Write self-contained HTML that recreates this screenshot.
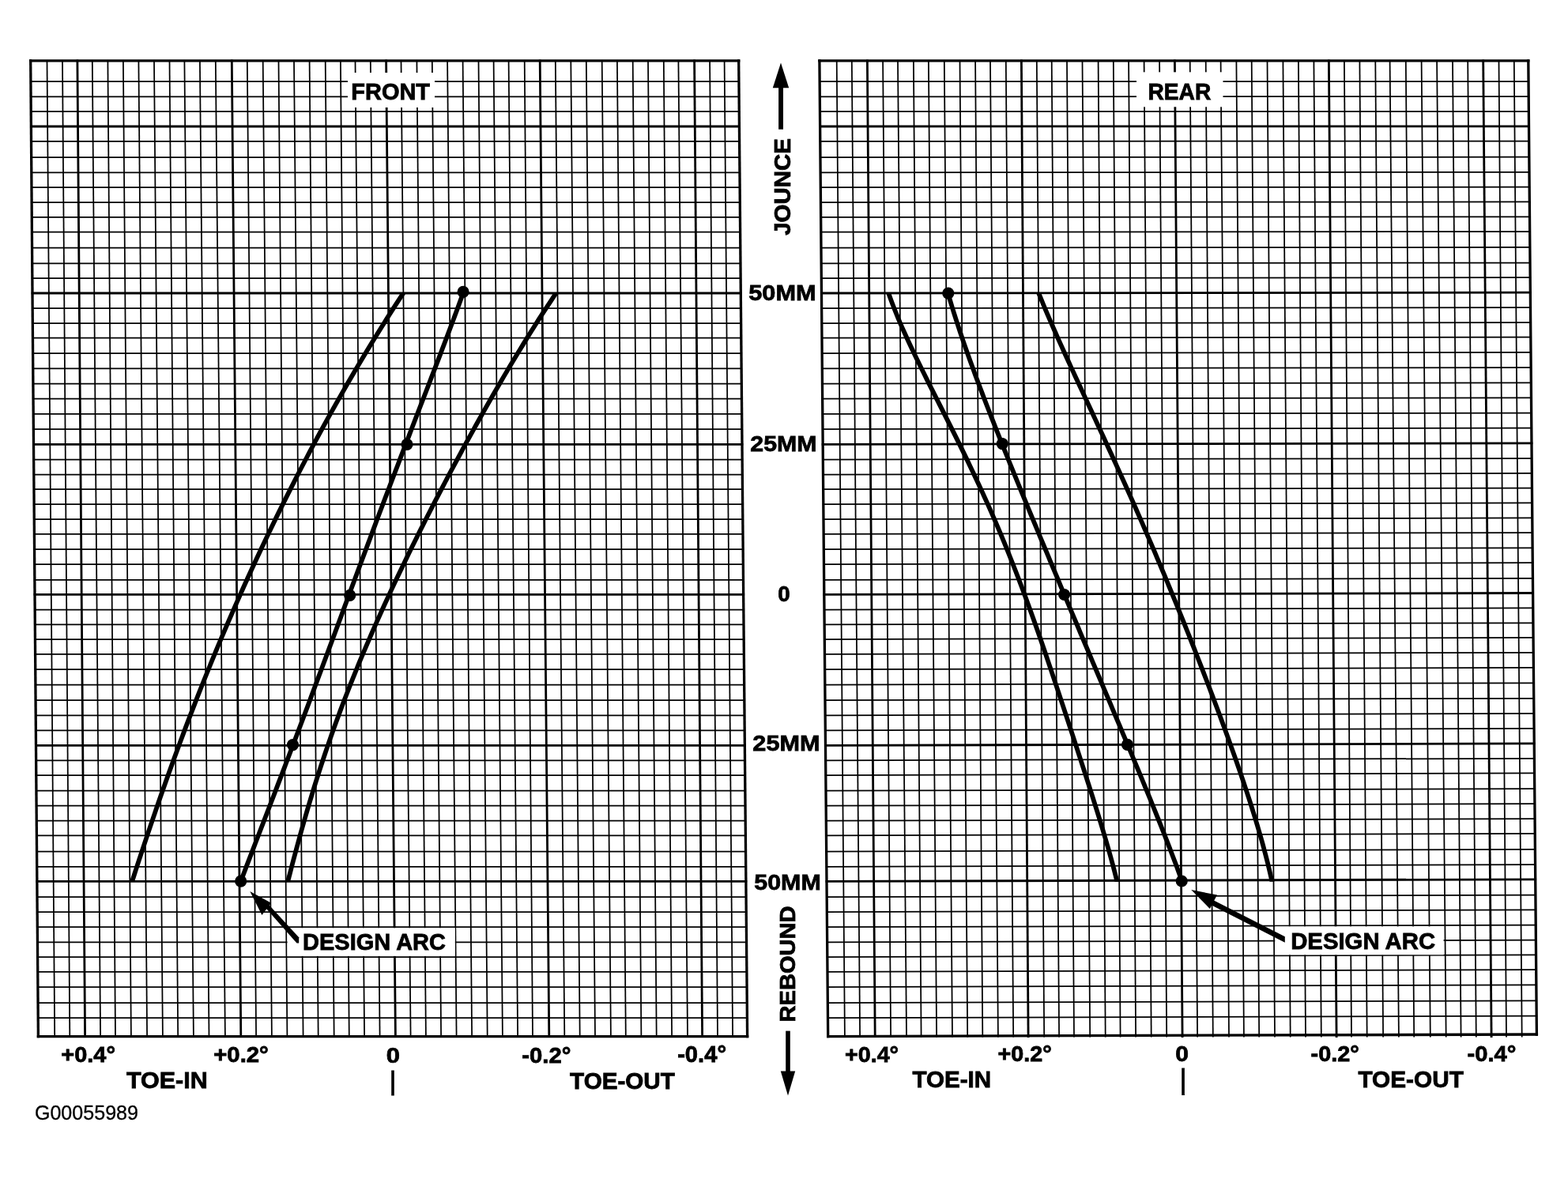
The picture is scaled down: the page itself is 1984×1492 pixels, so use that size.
<!DOCTYPE html><html><head><meta charset="utf-8"><title>Toe curve chart</title><style>html,body{margin:0;padding:0;background:#fff}svg{display:block}</style></head><body>
<svg width="1984" height="1492" viewBox="0 0 1984 1492">
<rect width="1984" height="1492" fill="#fff"/>
<defs><clipPath id="cclip"><rect x="0" y="370.2" width="1984" height="745.6"/></clipPath></defs>
<g fill="none" stroke="#000" stroke-linecap="square">
<line x1="38.7" y1="76.8" x2="48.4" y2="1311.6" stroke-width="3.3"/>
<line x1="59.5" y1="76.8" x2="69.2" y2="1311.6" stroke-width="1.75"/>
<line x1="79.0" y1="76.8" x2="88.3" y2="1311.6" stroke-width="1.75"/>
<line x1="97.9" y1="76.8" x2="107.6" y2="1311.6" stroke-width="2.8"/>
<line x1="116.8" y1="76.8" x2="127.1" y2="1311.6" stroke-width="1.75"/>
<line x1="136.4" y1="76.8" x2="146.0" y2="1311.6" stroke-width="1.75"/>
<line x1="155.9" y1="76.8" x2="165.9" y2="1311.6" stroke-width="1.75"/>
<line x1="175.4" y1="76.8" x2="186.1" y2="1311.6" stroke-width="1.75"/>
<line x1="195.0" y1="76.8" x2="205.9" y2="1311.6" stroke-width="1.75"/>
<line x1="214.5" y1="76.8" x2="225.2" y2="1311.6" stroke-width="1.75"/>
<line x1="233.4" y1="76.8" x2="244.9" y2="1311.6" stroke-width="1.75"/>
<line x1="252.9" y1="76.8" x2="264.5" y2="1311.6" stroke-width="1.75"/>
<line x1="272.8" y1="76.8" x2="284.9" y2="1311.6" stroke-width="1.75"/>
<line x1="293.3" y1="76.8" x2="304.8" y2="1311.6" stroke-width="2.8"/>
<line x1="312.8" y1="76.8" x2="324.1" y2="1311.6" stroke-width="1.75"/>
<line x1="332.7" y1="76.8" x2="343.9" y2="1311.6" stroke-width="1.75"/>
<line x1="352.5" y1="76.8" x2="363.4" y2="1311.6" stroke-width="1.75"/>
<line x1="372.0" y1="76.8" x2="383.6" y2="1311.6" stroke-width="1.75"/>
<line x1="391.6" y1="76.8" x2="402.7" y2="1311.6" stroke-width="1.75"/>
<line x1="411.7" y1="76.8" x2="422.7" y2="1311.6" stroke-width="1.75"/>
<line x1="430.9" y1="76.8" x2="441.8" y2="1311.6" stroke-width="1.75"/>
<line x1="449.5" y1="76.8" x2="461.1" y2="1311.6" stroke-width="1.75"/>
<line x1="468.8" y1="76.8" x2="480.6" y2="1311.6" stroke-width="1.75"/>
<line x1="488.6" y1="76.8" x2="500.4" y2="1311.6" stroke-width="2.8"/>
<line x1="507.5" y1="76.8" x2="519.6" y2="1311.6" stroke-width="1.75"/>
<line x1="527.4" y1="76.8" x2="538.9" y2="1311.6" stroke-width="1.75"/>
<line x1="546.8" y1="76.8" x2="558.1" y2="1311.6" stroke-width="1.75"/>
<line x1="566.1" y1="76.8" x2="577.6" y2="1311.6" stroke-width="1.75"/>
<line x1="585.6" y1="76.8" x2="597.1" y2="1311.6" stroke-width="1.75"/>
<line x1="605.5" y1="76.8" x2="616.7" y2="1311.6" stroke-width="1.75"/>
<line x1="624.6" y1="76.8" x2="635.9" y2="1311.6" stroke-width="1.75"/>
<line x1="643.6" y1="76.8" x2="655.1" y2="1311.6" stroke-width="1.75"/>
<line x1="663.7" y1="76.8" x2="674.0" y2="1311.6" stroke-width="1.75"/>
<line x1="683.2" y1="76.8" x2="694.8" y2="1311.6" stroke-width="2.8"/>
<line x1="702.8" y1="76.8" x2="714.3" y2="1311.6" stroke-width="1.75"/>
<line x1="722.3" y1="76.8" x2="733.7" y2="1311.6" stroke-width="1.75"/>
<line x1="741.8" y1="76.8" x2="753.0" y2="1311.6" stroke-width="1.75"/>
<line x1="761.7" y1="76.8" x2="772.9" y2="1311.6" stroke-width="1.75"/>
<line x1="780.9" y1="76.8" x2="791.8" y2="1311.6" stroke-width="1.75"/>
<line x1="800.7" y1="76.8" x2="811.4" y2="1311.6" stroke-width="1.75"/>
<line x1="820.0" y1="76.8" x2="830.7" y2="1311.6" stroke-width="1.75"/>
<line x1="839.8" y1="76.8" x2="850.1" y2="1311.6" stroke-width="1.75"/>
<line x1="858.4" y1="76.8" x2="870.0" y2="1311.6" stroke-width="1.75"/>
<line x1="878.6" y1="76.8" x2="888.6" y2="1311.6" stroke-width="2.8"/>
<line x1="898.1" y1="76.8" x2="908.0" y2="1311.6" stroke-width="1.75"/>
<line x1="916.6" y1="76.8" x2="927.1" y2="1311.6" stroke-width="1.75"/>
<line x1="934.7" y1="76.8" x2="945.6" y2="1311.6" stroke-width="3.3"/>
<line x1="38.7" y1="76.8" x2="934.7" y2="76.8" stroke-width="3.3"/>
<line x1="38.9" y1="103.0" x2="934.9" y2="103.0" stroke-width="1.75"/>
<line x1="39.1" y1="122.3" x2="935.1" y2="122.3" stroke-width="1.75"/>
<line x1="39.2" y1="141.2" x2="935.3" y2="141.2" stroke-width="1.75"/>
<line x1="39.4" y1="160.0" x2="935.4" y2="160.0" stroke-width="2.8"/>
<line x1="39.5" y1="178.9" x2="935.6" y2="178.9" stroke-width="1.75"/>
<line x1="39.7" y1="199.0" x2="935.8" y2="199.0" stroke-width="1.75"/>
<line x1="39.8" y1="218.3" x2="935.9" y2="218.3" stroke-width="1.75"/>
<line x1="40.0" y1="237.1" x2="936.1" y2="237.1" stroke-width="1.75"/>
<line x1="40.1" y1="256.0" x2="936.3" y2="256.0" stroke-width="1.75"/>
<line x1="40.3" y1="274.9" x2="936.4" y2="274.9" stroke-width="1.75"/>
<line x1="40.4" y1="293.7" x2="936.6" y2="293.7" stroke-width="1.75"/>
<line x1="40.6" y1="313.5" x2="936.8" y2="313.5" stroke-width="1.75"/>
<line x1="40.7" y1="333.3" x2="937.0" y2="333.3" stroke-width="1.75"/>
<line x1="40.9" y1="352.0" x2="937.1" y2="352.0" stroke-width="1.75"/>
<line x1="41.0" y1="371.0" x2="937.3" y2="371.0" stroke-width="2.8"/>
<line x1="41.2" y1="390.0" x2="937.5" y2="390.0" stroke-width="1.75"/>
<line x1="41.3" y1="409.0" x2="937.6" y2="409.0" stroke-width="1.75"/>
<line x1="41.5" y1="427.7" x2="937.8" y2="427.7" stroke-width="1.75"/>
<line x1="41.6" y1="447.0" x2="938.0" y2="447.0" stroke-width="1.75"/>
<line x1="41.8" y1="466.3" x2="938.1" y2="466.3" stroke-width="1.75"/>
<line x1="41.9" y1="485.5" x2="938.3" y2="485.5" stroke-width="1.75"/>
<line x1="42.1" y1="504.5" x2="938.5" y2="504.5" stroke-width="1.75"/>
<line x1="42.2" y1="523.9" x2="938.6" y2="523.9" stroke-width="1.75"/>
<line x1="42.4" y1="543.0" x2="938.8" y2="543.0" stroke-width="1.75"/>
<line x1="42.5" y1="562.3" x2="939.0" y2="562.3" stroke-width="2.8"/>
<line x1="42.7" y1="581.5" x2="939.2" y2="581.5" stroke-width="1.75"/>
<line x1="42.8" y1="600.5" x2="939.3" y2="600.5" stroke-width="1.75"/>
<line x1="43.0" y1="619.2" x2="939.5" y2="619.2" stroke-width="1.75"/>
<line x1="43.1" y1="638.1" x2="939.7" y2="638.1" stroke-width="1.75"/>
<line x1="43.3" y1="657.1" x2="939.8" y2="657.1" stroke-width="1.75"/>
<line x1="43.4" y1="675.8" x2="940.0" y2="675.8" stroke-width="1.75"/>
<line x1="43.6" y1="695.1" x2="940.2" y2="695.1" stroke-width="1.75"/>
<line x1="43.7" y1="714.0" x2="940.3" y2="714.0" stroke-width="1.75"/>
<line x1="43.9" y1="733.8" x2="940.5" y2="733.8" stroke-width="1.75"/>
<line x1="44.0" y1="752.4" x2="940.7" y2="752.4" stroke-width="2.8"/>
<line x1="44.2" y1="771.5" x2="940.8" y2="771.5" stroke-width="1.75"/>
<line x1="44.3" y1="790.3" x2="941.0" y2="790.3" stroke-width="1.75"/>
<line x1="44.4" y1="809.0" x2="941.2" y2="809.0" stroke-width="1.75"/>
<line x1="44.6" y1="827.9" x2="941.3" y2="827.9" stroke-width="1.75"/>
<line x1="44.7" y1="847.2" x2="941.5" y2="847.2" stroke-width="1.75"/>
<line x1="44.9" y1="866.5" x2="941.7" y2="866.5" stroke-width="1.75"/>
<line x1="45.1" y1="886.1" x2="941.8" y2="886.1" stroke-width="1.75"/>
<line x1="45.2" y1="905.3" x2="942.0" y2="905.3" stroke-width="1.75"/>
<line x1="45.4" y1="924.3" x2="942.2" y2="924.3" stroke-width="1.75"/>
<line x1="45.5" y1="943.4" x2="942.3" y2="943.4" stroke-width="2.8"/>
<line x1="45.7" y1="962.3" x2="942.5" y2="962.3" stroke-width="1.75"/>
<line x1="45.8" y1="981.0" x2="942.7" y2="981.0" stroke-width="1.75"/>
<line x1="46.0" y1="1000.7" x2="942.9" y2="1000.7" stroke-width="1.75"/>
<line x1="46.1" y1="1019.7" x2="943.0" y2="1019.7" stroke-width="1.75"/>
<line x1="46.3" y1="1038.7" x2="943.2" y2="1038.7" stroke-width="1.75"/>
<line x1="46.4" y1="1057.4" x2="943.4" y2="1057.4" stroke-width="1.75"/>
<line x1="46.6" y1="1077.5" x2="943.5" y2="1077.5" stroke-width="1.75"/>
<line x1="46.7" y1="1096.8" x2="943.7" y2="1096.8" stroke-width="1.75"/>
<line x1="46.9" y1="1115.4" x2="943.9" y2="1115.4" stroke-width="2.8"/>
<line x1="47.0" y1="1135.2" x2="944.0" y2="1135.2" stroke-width="1.75"/>
<line x1="47.2" y1="1154.1" x2="944.2" y2="1154.1" stroke-width="1.75"/>
<line x1="47.3" y1="1173.2" x2="944.4" y2="1173.2" stroke-width="1.75"/>
<line x1="47.5" y1="1192.3" x2="944.5" y2="1192.3" stroke-width="1.75"/>
<line x1="47.6" y1="1211.0" x2="944.7" y2="1211.0" stroke-width="1.75"/>
<line x1="47.7" y1="1229.8" x2="944.9" y2="1229.8" stroke-width="1.75"/>
<line x1="47.9" y1="1249.1" x2="945.1" y2="1249.1" stroke-width="1.75"/>
<line x1="48.1" y1="1269.0" x2="945.2" y2="1269.0" stroke-width="1.75"/>
<line x1="48.2" y1="1288.2" x2="945.4" y2="1288.2" stroke-width="1.75"/>
<line x1="48.4" y1="1311.6" x2="945.6" y2="1311.6" stroke-width="3.3"/>
</g>
<g fill="none" stroke="#000" stroke-linecap="square">
<line x1="1036.9" y1="76.8" x2="1047.7" y2="1311.6" stroke-width="3.3"/>
<line x1="1058.7" y1="76.8" x2="1068.9" y2="1311.6" stroke-width="1.75"/>
<line x1="1077.8" y1="76.8" x2="1088.1" y2="1311.6" stroke-width="1.75"/>
<line x1="1097.4" y1="76.8" x2="1107.2" y2="1311.6" stroke-width="2.8"/>
<line x1="1117.1" y1="76.8" x2="1127.1" y2="1311.6" stroke-width="1.75"/>
<line x1="1136.0" y1="76.8" x2="1147.0" y2="1311.6" stroke-width="1.75"/>
<line x1="1155.9" y1="76.8" x2="1165.6" y2="1311.6" stroke-width="1.75"/>
<line x1="1174.9" y1="76.8" x2="1185.1" y2="1311.6" stroke-width="1.75"/>
<line x1="1194.8" y1="76.8" x2="1205.0" y2="1311.6" stroke-width="1.75"/>
<line x1="1214.5" y1="76.8" x2="1224.2" y2="1311.6" stroke-width="1.75"/>
<line x1="1234.1" y1="76.8" x2="1243.3" y2="1311.6" stroke-width="1.75"/>
<line x1="1253.0" y1="76.8" x2="1262.9" y2="1311.6" stroke-width="1.75"/>
<line x1="1272.8" y1="76.8" x2="1282.2" y2="1311.6" stroke-width="1.75"/>
<line x1="1292.4" y1="76.8" x2="1301.1" y2="1311.6" stroke-width="2.8"/>
<line x1="1311.8" y1="76.8" x2="1321.2" y2="1311.6" stroke-width="1.75"/>
<line x1="1330.7" y1="76.8" x2="1340.1" y2="1311.6" stroke-width="1.75"/>
<line x1="1350.0" y1="76.8" x2="1359.0" y2="1311.6" stroke-width="1.75"/>
<line x1="1369.5" y1="76.8" x2="1379.2" y2="1311.6" stroke-width="1.75"/>
<line x1="1389.6" y1="76.8" x2="1398.7" y2="1311.6" stroke-width="1.75"/>
<line x1="1408.8" y1="76.8" x2="1417.6" y2="1311.6" stroke-width="1.75"/>
<line x1="1428.1" y1="76.8" x2="1437.1" y2="1311.6" stroke-width="1.75"/>
<line x1="1447.6" y1="76.8" x2="1456.7" y2="1311.6" stroke-width="1.75"/>
<line x1="1467.1" y1="76.8" x2="1476.2" y2="1311.6" stroke-width="1.75"/>
<line x1="1486.4" y1="76.8" x2="1496.1" y2="1311.6" stroke-width="2.8"/>
<line x1="1505.7" y1="76.8" x2="1515.1" y2="1311.6" stroke-width="1.75"/>
<line x1="1525.7" y1="76.8" x2="1534.8" y2="1311.6" stroke-width="1.75"/>
<line x1="1544.6" y1="76.8" x2="1555.0" y2="1311.6" stroke-width="1.75"/>
<line x1="1564.4" y1="76.8" x2="1573.9" y2="1311.6" stroke-width="1.75"/>
<line x1="1583.7" y1="76.8" x2="1593.2" y2="1311.6" stroke-width="1.75"/>
<line x1="1603.5" y1="76.8" x2="1613.0" y2="1311.6" stroke-width="1.75"/>
<line x1="1623.4" y1="76.8" x2="1632.7" y2="1311.6" stroke-width="1.75"/>
<line x1="1642.9" y1="76.8" x2="1652.0" y2="1311.6" stroke-width="1.75"/>
<line x1="1662.4" y1="76.8" x2="1671.8" y2="1311.6" stroke-width="1.75"/>
<line x1="1681.4" y1="76.8" x2="1691.1" y2="1311.6" stroke-width="2.8"/>
<line x1="1700.9" y1="76.8" x2="1710.0" y2="1311.6" stroke-width="1.75"/>
<line x1="1720.4" y1="76.8" x2="1729.7" y2="1311.6" stroke-width="1.75"/>
<line x1="1740.3" y1="76.8" x2="1750.1" y2="1311.6" stroke-width="1.75"/>
<line x1="1758.6" y1="76.8" x2="1769.9" y2="1311.6" stroke-width="1.75"/>
<line x1="1778.8" y1="76.8" x2="1789.2" y2="1311.6" stroke-width="1.75"/>
<line x1="1798.6" y1="76.8" x2="1809.8" y2="1311.6" stroke-width="1.75"/>
<line x1="1818.1" y1="76.8" x2="1829.7" y2="1311.6" stroke-width="1.75"/>
<line x1="1838.0" y1="76.8" x2="1848.6" y2="1311.6" stroke-width="1.75"/>
<line x1="1857.2" y1="76.8" x2="1867.8" y2="1311.6" stroke-width="1.75"/>
<line x1="1876.7" y1="76.8" x2="1887.1" y2="1311.6" stroke-width="2.8"/>
<line x1="1896.5" y1="76.8" x2="1906.0" y2="1311.6" stroke-width="1.75"/>
<line x1="1915.8" y1="76.8" x2="1925.7" y2="1311.6" stroke-width="1.75"/>
<line x1="1933.8" y1="76.8" x2="1944.4" y2="1309.0" stroke-width="3.3"/>
<line x1="1036.9" y1="76.8" x2="1933.8" y2="76.8" stroke-width="3.3"/>
<line x1="1037.1" y1="103.0" x2="1934.0" y2="103.0" stroke-width="1.75"/>
<line x1="1037.3" y1="122.3" x2="1934.2" y2="122.2" stroke-width="1.75"/>
<line x1="1037.5" y1="141.2" x2="1934.3" y2="141.1" stroke-width="1.75"/>
<line x1="1037.6" y1="160.0" x2="1934.5" y2="159.8" stroke-width="2.8"/>
<line x1="1037.8" y1="178.9" x2="1934.7" y2="178.6" stroke-width="1.75"/>
<line x1="1038.0" y1="199.0" x2="1934.8" y2="198.7" stroke-width="1.75"/>
<line x1="1038.1" y1="218.3" x2="1935.0" y2="217.9" stroke-width="1.75"/>
<line x1="1038.3" y1="237.1" x2="1935.2" y2="236.7" stroke-width="1.75"/>
<line x1="1038.5" y1="256.0" x2="1935.3" y2="255.5" stroke-width="1.75"/>
<line x1="1038.6" y1="274.9" x2="1935.5" y2="274.4" stroke-width="1.75"/>
<line x1="1038.8" y1="293.7" x2="1935.7" y2="293.1" stroke-width="1.75"/>
<line x1="1039.0" y1="313.5" x2="1935.8" y2="312.9" stroke-width="1.75"/>
<line x1="1039.1" y1="333.3" x2="1936.0" y2="332.6" stroke-width="1.75"/>
<line x1="1039.3" y1="352.0" x2="1936.2" y2="351.2" stroke-width="1.75"/>
<line x1="1039.5" y1="371.0" x2="1936.3" y2="370.2" stroke-width="2.8"/>
<line x1="1039.6" y1="390.0" x2="1936.5" y2="389.1" stroke-width="1.75"/>
<line x1="1039.8" y1="409.0" x2="1936.6" y2="408.1" stroke-width="1.75"/>
<line x1="1040.0" y1="427.7" x2="1936.8" y2="426.7" stroke-width="1.75"/>
<line x1="1040.1" y1="447.0" x2="1937.0" y2="446.0" stroke-width="1.75"/>
<line x1="1040.3" y1="466.3" x2="1937.1" y2="465.2" stroke-width="1.75"/>
<line x1="1040.5" y1="485.5" x2="1937.3" y2="484.4" stroke-width="1.75"/>
<line x1="1040.6" y1="504.5" x2="1937.5" y2="503.3" stroke-width="1.75"/>
<line x1="1040.8" y1="523.9" x2="1937.6" y2="522.6" stroke-width="1.75"/>
<line x1="1041.0" y1="543.0" x2="1937.8" y2="541.7" stroke-width="1.75"/>
<line x1="1041.1" y1="562.3" x2="1938.0" y2="560.9" stroke-width="2.8"/>
<line x1="1041.3" y1="581.5" x2="1938.1" y2="580.1" stroke-width="1.75"/>
<line x1="1041.5" y1="600.5" x2="1938.3" y2="599.0" stroke-width="1.75"/>
<line x1="1041.6" y1="619.2" x2="1938.5" y2="617.7" stroke-width="1.75"/>
<line x1="1041.8" y1="638.1" x2="1938.6" y2="636.5" stroke-width="1.75"/>
<line x1="1042.0" y1="657.1" x2="1938.8" y2="655.5" stroke-width="1.75"/>
<line x1="1042.1" y1="675.8" x2="1938.9" y2="674.1" stroke-width="1.75"/>
<line x1="1042.3" y1="695.1" x2="1939.1" y2="693.4" stroke-width="1.75"/>
<line x1="1042.5" y1="714.0" x2="1939.3" y2="712.2" stroke-width="1.75"/>
<line x1="1042.6" y1="733.8" x2="1939.4" y2="731.9" stroke-width="1.75"/>
<line x1="1042.8" y1="752.4" x2="1939.6" y2="750.5" stroke-width="2.8"/>
<line x1="1043.0" y1="771.5" x2="1939.8" y2="769.5" stroke-width="1.75"/>
<line x1="1043.1" y1="790.3" x2="1939.9" y2="788.3" stroke-width="1.75"/>
<line x1="1043.3" y1="809.0" x2="1940.1" y2="806.9" stroke-width="1.75"/>
<line x1="1043.5" y1="827.9" x2="1940.2" y2="825.8" stroke-width="1.75"/>
<line x1="1043.6" y1="847.2" x2="1940.4" y2="845.0" stroke-width="1.75"/>
<line x1="1043.8" y1="866.5" x2="1940.6" y2="864.3" stroke-width="1.75"/>
<line x1="1044.0" y1="886.1" x2="1940.7" y2="883.8" stroke-width="1.75"/>
<line x1="1044.1" y1="905.3" x2="1940.9" y2="902.9" stroke-width="1.75"/>
<line x1="1044.3" y1="924.3" x2="1941.1" y2="921.9" stroke-width="1.75"/>
<line x1="1044.5" y1="943.4" x2="1941.2" y2="940.9" stroke-width="2.8"/>
<line x1="1044.6" y1="962.3" x2="1941.4" y2="959.8" stroke-width="1.75"/>
<line x1="1044.8" y1="981.0" x2="1941.6" y2="978.4" stroke-width="1.75"/>
<line x1="1045.0" y1="1000.7" x2="1941.7" y2="998.1" stroke-width="1.75"/>
<line x1="1045.1" y1="1019.7" x2="1941.9" y2="1017.1" stroke-width="1.75"/>
<line x1="1045.3" y1="1038.7" x2="1942.1" y2="1036.1" stroke-width="1.75"/>
<line x1="1045.5" y1="1057.4" x2="1942.2" y2="1054.8" stroke-width="1.75"/>
<line x1="1045.7" y1="1077.5" x2="1942.4" y2="1074.9" stroke-width="1.75"/>
<line x1="1045.8" y1="1096.8" x2="1942.6" y2="1094.2" stroke-width="1.75"/>
<line x1="1046.0" y1="1115.4" x2="1942.7" y2="1112.8" stroke-width="2.8"/>
<line x1="1046.2" y1="1135.2" x2="1942.9" y2="1132.6" stroke-width="1.75"/>
<line x1="1046.3" y1="1154.1" x2="1943.0" y2="1151.5" stroke-width="1.75"/>
<line x1="1046.5" y1="1173.2" x2="1943.2" y2="1170.6" stroke-width="1.75"/>
<line x1="1046.7" y1="1192.3" x2="1943.4" y2="1189.7" stroke-width="1.75"/>
<line x1="1046.8" y1="1211.0" x2="1943.5" y2="1208.4" stroke-width="1.75"/>
<line x1="1047.0" y1="1229.8" x2="1943.7" y2="1227.2" stroke-width="1.75"/>
<line x1="1047.2" y1="1249.1" x2="1943.9" y2="1246.5" stroke-width="1.75"/>
<line x1="1047.3" y1="1269.0" x2="1944.0" y2="1266.4" stroke-width="1.75"/>
<line x1="1047.5" y1="1288.2" x2="1944.2" y2="1285.6" stroke-width="1.75"/>
<line x1="1047.7" y1="1311.6" x2="1944.4" y2="1309.0" stroke-width="3.3"/>
</g>
<g fill="#fff">
<rect x="440" y="92" width="110" height="44"/>
<rect x="1438" y="91.3" width="109.5" height="44"/>
<rect x="363.6" y="1174.3" width="212.2" height="35.6"/>
<rect x="1613.3" y="1172.4" width="213.3" height="35.9"/>
</g>
<g fill="none" stroke="#000" stroke-width="5.8" stroke-linejoin="round" stroke-linecap="butt">
<path clip-path="url(#cclip)" d="M512.81,367.10 L508.87,373.11 L504.94,379.12 L501.05,385.13 L497.18,391.14 L493.34,397.16 L489.53,403.17 L485.74,409.18 L481.97,415.19 L478.23,421.20 L474.52,427.21 L470.83,433.22 L467.16,439.23 L463.52,445.25 L459.90,451.26 L456.31,457.27 L452.74,463.28 L449.18,469.29 L445.66,475.30 L442.15,481.31 L438.67,487.32 L435.21,493.34 L431.77,499.35 L428.35,505.36 L424.95,511.37 L421.57,517.38 L418.21,523.39 L414.87,529.40 L411.56,535.41 L408.26,541.42 L404.98,547.44 L401.73,553.45 L398.49,559.46 L395.27,565.47 L392.07,571.48 L388.89,577.49 L385.72,583.50 L382.58,589.51 L379.46,595.53 L376.35,601.54 L373.26,607.55 L370.19,613.56 L367.14,619.57 L364.10,625.58 L361.08,631.59 L358.08,637.60 L355.10,643.62 L352.13,649.63 L349.19,655.64 L346.25,661.65 L343.34,667.66 L340.44,673.67 L337.56,679.68 L334.70,685.69 L331.85,691.70 L329.02,697.72 L326.21,703.73 L323.41,709.74 L320.63,715.75 L317.86,721.76 L315.11,727.77 L312.38,733.78 L309.66,739.79 L306.96,745.81 L304.27,751.82 L301.60,757.83 L298.94,763.84 L296.30,769.85 L293.68,775.86 L291.07,781.87 L288.47,787.88 L285.90,793.90 L283.33,799.91 L280.78,805.92 L278.25,811.93 L275.73,817.94 L273.23,823.95 L270.74,829.96 L268.26,835.97 L265.80,841.98 L263.35,848.00 L260.92,854.01 L258.50,860.02 L256.10,866.03 L253.71,872.04 L251.33,878.05 L248.97,884.06 L246.62,890.07 L244.29,896.09 L241.97,902.10 L239.66,908.11 L237.37,914.12 L235.08,920.13 L232.82,926.14 L230.56,932.15 L228.32,938.16 L226.09,944.18 L223.87,950.19 L221.66,956.20 L219.47,962.21 L217.29,968.22 L215.12,974.23 L212.96,980.24 L210.82,986.25 L208.68,992.26 L206.56,998.28 L204.45,1004.29 L202.35,1010.30 L200.26,1016.31 L198.18,1022.32 L196.11,1028.33 L194.05,1034.34 L192.00,1040.35 L189.96,1046.37 L187.93,1052.38 L185.91,1058.39 L183.90,1064.40 L181.90,1070.41 L179.90,1076.42 L177.92,1082.43 L175.94,1088.44 L173.97,1094.46 L172.00,1100.47 L170.05,1106.48 L168.10,1112.49 L166.16,1118.50"/>
<path clip-path="url(#cclip)" d="M705.48,368.20 L701.40,374.24 L697.37,380.28 L693.38,386.32 L689.42,392.35 L685.50,398.39 L681.61,404.43 L677.76,410.47 L673.94,416.51 L670.15,422.55 L666.38,428.59 L662.65,434.63 L658.95,440.66 L655.27,446.70 L651.61,452.74 L647.98,458.78 L644.38,464.82 L640.79,470.86 L637.23,476.90 L633.69,482.94 L630.17,488.97 L626.68,495.01 L623.20,501.05 L619.74,507.09 L616.29,513.13 L612.87,519.17 L609.46,525.21 L606.07,531.25 L602.70,537.28 L599.34,543.32 L596.00,549.36 L592.67,555.40 L589.36,561.44 L586.06,567.48 L582.78,573.52 L579.52,579.55 L576.27,585.59 L573.03,591.63 L569.81,597.67 L566.60,603.71 L563.41,609.75 L560.23,615.79 L557.06,621.83 L553.92,627.86 L550.78,633.90 L547.66,639.94 L544.55,645.98 L541.46,652.02 L538.39,658.06 L535.33,664.10 L532.28,670.14 L529.25,676.17 L526.24,682.21 L523.24,688.25 L520.26,694.29 L517.30,700.33 L514.35,706.37 L511.42,712.41 L508.50,718.45 L505.61,724.48 L502.73,730.52 L499.87,736.56 L497.03,742.60 L494.20,748.64 L491.40,754.68 L488.61,760.72 L485.85,766.75 L483.10,772.79 L480.38,778.83 L477.67,784.87 L474.99,790.91 L472.32,796.95 L469.68,802.99 L467.06,809.03 L464.46,815.06 L461.89,821.10 L459.33,827.14 L456.80,833.18 L454.29,839.22 L451.81,845.26 L449.34,851.30 L446.91,857.34 L444.49,863.37 L442.10,869.41 L439.73,875.45 L437.39,881.49 L435.07,887.53 L432.78,893.57 L430.51,899.61 L428.27,905.65 L426.05,911.68 L423.85,917.72 L421.68,923.76 L419.54,929.80 L417.42,935.84 L415.32,941.88 L413.25,947.92 L411.20,953.95 L409.18,959.99 L407.18,966.03 L405.21,972.07 L403.26,978.11 L401.33,984.15 L399.42,990.19 L397.54,996.23 L395.68,1002.26 L393.84,1008.30 L392.03,1014.34 L390.23,1020.38 L388.46,1026.42 L386.70,1032.46 L384.97,1038.50 L383.25,1044.54 L381.55,1050.57 L379.87,1056.61 L378.21,1062.65 L376.56,1068.69 L374.93,1074.73 L373.31,1080.77 L371.70,1086.81 L370.10,1092.85 L368.52,1098.88 L366.95,1104.92 L365.38,1110.96 L363.83,1117.00"/>
<path clip-path="url(#cclip)" d="M1122.75,366.50 L1124.80,372.50 L1126.95,378.51 L1129.19,384.51 L1131.51,390.52 L1133.91,396.52 L1136.39,402.52 L1138.93,408.53 L1141.53,414.53 L1144.20,420.54 L1146.91,426.54 L1149.68,432.54 L1152.48,438.55 L1155.33,444.55 L1158.21,450.56 L1161.12,456.56 L1164.06,462.56 L1167.03,468.57 L1170.01,474.57 L1173.01,480.58 L1176.02,486.58 L1179.05,492.58 L1182.08,498.59 L1185.12,504.59 L1188.15,510.60 L1191.19,516.60 L1194.23,522.60 L1197.26,528.61 L1200.28,534.61 L1203.30,540.62 L1206.30,546.62 L1209.29,552.62 L1212.27,558.63 L1215.23,564.63 L1218.18,570.64 L1221.11,576.64 L1224.02,582.64 L1226.90,588.65 L1229.77,594.65 L1232.61,600.66 L1235.44,606.66 L1238.23,612.66 L1241.01,618.67 L1243.76,624.67 L1246.48,630.68 L1249.18,636.68 L1251.85,642.68 L1254.50,648.69 L1257.13,654.69 L1259.72,660.70 L1262.29,666.70 L1264.84,672.70 L1267.36,678.71 L1269.85,684.71 L1272.32,690.72 L1274.77,696.72 L1277.19,702.72 L1279.58,708.73 L1281.96,714.73 L1284.31,720.74 L1286.63,726.74 L1288.94,732.74 L1291.22,738.75 L1293.49,744.75 L1295.73,750.76 L1297.96,756.76 L1300.16,762.76 L1302.35,768.77 L1304.53,774.77 L1306.68,780.78 L1308.82,786.78 L1310.95,792.78 L1313.06,798.79 L1315.16,804.79 L1317.24,810.80 L1319.32,816.80 L1321.38,822.80 L1323.43,828.81 L1325.47,834.81 L1327.51,840.82 L1329.53,846.82 L1331.55,852.82 L1333.56,858.83 L1335.57,864.83 L1337.57,870.84 L1339.56,876.84 L1341.55,882.84 L1343.54,888.85 L1345.52,894.85 L1347.50,900.86 L1349.48,906.86 L1351.45,912.86 L1353.42,918.87 L1355.39,924.87 L1357.35,930.88 L1359.31,936.88 L1361.27,942.88 L1363.23,948.89 L1365.18,954.89 L1367.14,960.90 L1369.08,966.90 L1371.03,972.90 L1372.97,978.91 L1374.90,984.91 L1376.83,990.92 L1378.76,996.92 L1380.67,1002.92 L1382.58,1008.93 L1384.48,1014.93 L1386.37,1020.94 L1388.25,1026.94 L1390.11,1032.94 L1391.96,1038.95 L1393.79,1044.95 L1395.61,1050.96 L1397.40,1056.96 L1399.18,1062.96 L1400.93,1068.97 L1402.65,1074.97 L1404.35,1080.98 L1406.01,1086.98 L1407.64,1092.98 L1409.23,1098.99 L1410.79,1104.99 L1412.30,1111.00 L1413.77,1117.00"/>
<path clip-path="url(#cclip)" d="M1312.71,367.10 L1315.13,373.15 L1317.60,379.20 L1320.10,385.24 L1322.63,391.29 L1325.20,397.34 L1327.79,403.39 L1330.41,409.43 L1333.06,415.48 L1335.72,421.53 L1338.41,427.58 L1341.12,433.62 L1343.84,439.67 L1346.58,445.72 L1349.33,451.77 L1352.09,457.81 L1354.87,463.86 L1357.65,469.91 L1360.44,475.96 L1363.24,482.00 L1366.04,488.05 L1368.85,494.10 L1371.66,500.15 L1374.47,506.19 L1377.28,512.24 L1380.09,518.29 L1382.90,524.34 L1385.71,530.38 L1388.52,536.43 L1391.32,542.48 L1394.12,548.53 L1396.91,554.58 L1399.70,560.62 L1402.49,566.67 L1405.26,572.72 L1408.03,578.77 L1410.79,584.81 L1413.55,590.86 L1416.29,596.91 L1419.03,602.96 L1421.76,609.00 L1424.47,615.05 L1427.18,621.10 L1429.88,627.15 L1432.57,633.19 L1435.25,639.24 L1437.92,645.29 L1440.58,651.34 L1443.23,657.38 L1445.87,663.43 L1448.50,669.48 L1451.12,675.53 L1453.73,681.57 L1456.32,687.62 L1458.91,693.67 L1461.49,699.72 L1464.05,705.76 L1466.61,711.81 L1469.15,717.86 L1471.69,723.91 L1474.22,729.95 L1476.73,736.00 L1479.24,742.05 L1481.73,748.10 L1484.22,754.15 L1486.70,760.19 L1489.16,766.24 L1491.62,772.29 L1494.07,778.34 L1496.51,784.38 L1498.94,790.43 L1501.36,796.48 L1503.78,802.53 L1506.18,808.57 L1508.57,814.62 L1510.96,820.67 L1513.34,826.72 L1515.70,832.76 L1518.06,838.81 L1520.41,844.86 L1522.75,850.91 L1525.09,856.95 L1527.41,863.00 L1529.72,869.05 L1532.03,875.10 L1534.32,881.14 L1536.60,887.19 L1538.88,893.24 L1541.14,899.29 L1543.39,905.33 L1545.63,911.38 L1547.86,917.43 L1550.08,923.48 L1552.28,929.53 L1554.48,935.57 L1556.65,941.62 L1558.82,947.67 L1560.97,953.72 L1563.10,959.76 L1565.22,965.81 L1567.32,971.86 L1569.41,977.91 L1571.47,983.95 L1573.52,990.00 L1575.54,996.05 L1577.55,1002.10 L1579.53,1008.14 L1581.48,1014.19 L1583.42,1020.24 L1585.32,1026.29 L1587.20,1032.33 L1589.05,1038.38 L1590.87,1044.43 L1592.66,1050.48 L1594.42,1056.52 L1596.14,1062.57 L1597.82,1068.62 L1599.46,1074.67 L1601.07,1080.71 L1602.63,1086.76 L1604.15,1092.81 L1605.62,1098.86 L1607.04,1104.90 L1608.41,1110.95 L1609.73,1117.00"/>
<path d="M586.50,369.40 L584.33,375.41 L582.15,381.43 L579.96,387.44 L577.75,393.46 L575.53,399.47 L573.30,405.49 L571.05,411.50 L568.80,417.52 L566.54,423.53 L564.27,429.55 L561.99,435.56 L559.71,441.57 L557.41,447.59 L555.12,453.60 L552.82,459.62 L550.51,465.63 L548.20,471.65 L545.89,477.66 L543.58,483.68 L541.26,489.69 L538.95,495.70 L536.63,501.72 L534.31,507.73 L531.99,513.75 L529.67,519.76 L527.35,525.78 L525.03,531.79 L522.72,537.81 L520.40,543.82 L518.09,549.84 L515.78,555.85 L513.47,561.86 L511.16,567.88 L508.86,573.89 L506.55,579.91 L504.26,585.92 L501.96,591.94 L499.66,597.95 L497.37,603.97 L495.09,609.98 L492.80,616.00 L490.52,622.01 L488.24,628.02 L485.97,634.04 L483.70,640.05 L481.43,646.07 L479.16,652.08 L476.90,658.10 L474.64,664.11 L472.38,670.13 L470.13,676.14 L467.88,682.15 L465.63,688.17 L463.38,694.18 L461.14,700.20 L458.90,706.21 L456.66,712.23 L454.42,718.24 L452.19,724.26 L449.95,730.27 L447.72,736.29 L445.49,742.30 L443.26,748.31 L441.03,754.33 L438.80,760.34 L436.58,766.36 L434.35,772.37 L432.12,778.39 L429.90,784.40 L427.67,790.42 L425.44,796.43 L423.22,802.45 L420.99,808.46 L418.76,814.47 L416.53,820.49 L414.30,826.50 L412.07,832.52 L409.83,838.53 L407.60,844.55 L405.36,850.56 L403.12,856.58 L400.88,862.59 L398.64,868.60 L396.39,874.62 L394.14,880.63 L391.89,886.65 L389.64,892.66 L387.38,898.68 L385.13,904.69 L382.86,910.71 L380.60,916.72 L378.33,922.74 L376.06,928.75 L373.78,934.76 L371.51,940.78 L369.23,946.79 L366.94,952.81 L364.66,958.82 L362.37,964.84 L360.07,970.85 L357.78,976.87 L355.48,982.88 L353.18,988.90 L350.87,994.91 L348.57,1000.92 L346.26,1006.94 L343.95,1012.95 L341.64,1018.97 L339.33,1024.98 L337.01,1031.00 L334.70,1037.01 L332.38,1043.03 L330.06,1049.04 L327.75,1055.05 L325.43,1061.07 L323.11,1067.08 L320.80,1073.10 L318.49,1079.11 L316.18,1085.13 L313.87,1091.14 L311.56,1097.16 L309.26,1103.17 L306.97,1109.19 L304.68,1115.20"/>
<path d="M1199.56,371.10 L1201.32,377.15 L1203.11,383.20 L1204.94,389.24 L1206.82,395.29 L1208.72,401.34 L1210.66,407.39 L1212.64,413.44 L1214.64,419.48 L1216.67,425.53 L1218.73,431.58 L1220.82,437.63 L1222.94,443.68 L1225.08,449.72 L1227.24,455.77 L1229.42,461.82 L1231.63,467.87 L1233.85,473.92 L1236.10,479.96 L1238.36,486.01 L1240.64,492.06 L1242.94,498.11 L1245.25,504.16 L1247.57,510.20 L1249.91,516.25 L1252.26,522.30 L1254.63,528.35 L1257.01,534.40 L1259.39,540.44 L1261.79,546.49 L1264.20,552.54 L1266.61,558.59 L1269.04,564.63 L1271.47,570.68 L1273.91,576.73 L1276.36,582.78 L1278.81,588.83 L1281.27,594.87 L1283.74,600.92 L1286.21,606.97 L1288.69,613.02 L1291.17,619.07 L1293.65,625.11 L1296.14,631.16 L1298.64,637.21 L1301.14,643.26 L1303.64,649.31 L1306.14,655.35 L1308.65,661.40 L1311.16,667.45 L1313.67,673.50 L1316.19,679.55 L1318.71,685.59 L1321.23,691.64 L1323.75,697.69 L1326.28,703.74 L1328.80,709.79 L1331.33,715.83 L1333.86,721.88 L1336.40,727.93 L1338.93,733.98 L1341.47,740.03 L1344.01,746.07 L1346.54,752.12 L1349.09,758.17 L1351.63,764.22 L1354.17,770.27 L1356.71,776.31 L1359.26,782.36 L1361.81,788.41 L1364.36,794.46 L1366.90,800.51 L1369.45,806.55 L1372.01,812.60 L1374.56,818.65 L1377.11,824.70 L1379.66,830.75 L1382.22,836.79 L1384.77,842.84 L1387.33,848.89 L1389.88,854.94 L1392.44,860.99 L1395.00,867.03 L1397.55,873.08 L1400.11,879.13 L1402.66,885.18 L1405.22,891.23 L1407.77,897.27 L1410.32,903.32 L1412.87,909.37 L1415.42,915.42 L1417.97,921.47 L1420.51,927.51 L1423.06,933.56 L1425.60,939.61 L1428.13,945.66 L1430.67,951.70 L1433.20,957.75 L1435.72,963.80 L1438.24,969.85 L1440.76,975.90 L1443.27,981.94 L1445.77,987.99 L1448.27,994.04 L1450.75,1000.09 L1453.23,1006.14 L1455.71,1012.18 L1458.17,1018.23 L1460.62,1024.28 L1463.06,1030.33 L1465.49,1036.38 L1467.91,1042.42 L1470.31,1048.47 L1472.70,1054.52 L1475.07,1060.57 L1477.43,1066.62 L1479.77,1072.66 L1482.09,1078.71 L1484.39,1084.76 L1486.67,1090.81 L1488.93,1096.86 L1491.17,1102.90 L1493.38,1108.95 L1495.57,1115.00"/>
</g>
<g fill="#000">
<circle cx="586.1" cy="369.4" r="7.6"/>
<circle cx="515.0" cy="562.3" r="7.6"/>
<circle cx="442.7" cy="753.4" r="7.6"/>
<circle cx="370.5" cy="942.6" r="7.6"/>
<circle cx="304.7" cy="1115.2" r="7.6"/>
<circle cx="1199.8" cy="371.1" r="7.6"/>
<circle cx="1268.3" cy="561.6" r="7.6"/>
<circle cx="1346.6" cy="752.5" r="7.6"/>
<circle cx="1426.5" cy="942.4" r="7.6"/>
<circle cx="1495.2" cy="1115.0" r="7.6"/>
</g>
<g fill="#000" stroke="none">
<polygon points="988,79.5 998.2,111.3 977.8,111.3"/>
<rect x="985.1" y="110" width="5.9" height="53.7"/>
<rect x="994.2" y="1304.6" width="5.6" height="52"/>
<polygon points="997,1386.5 1006.2,1355.5 987.8,1355.5"/>
<polygon points="316.3,1128.0 343.2,1142.8 331.4,1158.0"/>
<polygon points="333.5,1146.0 337.5,1142.0 378.2,1186.3 378.2,1193.6 375.5,1193.6"/>
<polygon points="1507.2,1126.0 1540.0,1132.6 1530.8,1150.0"/>
<polygon points="1531.0,1144.5 1534.0,1138.5 1625.8,1185.3 1625.8,1192.8"/>
</g>
<g fill="#000">
<text transform="matrix(0.14481 0 0 0.14507 444.32 126.11)" font-family="&quot;Liberation Sans&quot;, Arial, Helvetica, sans-serif" font-weight="bold" font-size="200" stroke="#000" stroke-width="0.8" vector-effect="non-scaling-stroke">FRONT</text>
<text transform="matrix(0.14098 0 0 0.14783 1452.47 125.80)" font-family="&quot;Liberation Sans&quot;, Arial, Helvetica, sans-serif" font-weight="bold" font-size="200" stroke="#000" stroke-width="0.8" vector-effect="non-scaling-stroke">REAR</text>
<text transform="matrix(0.15373 0 0 0.14225 947.28 380.32)" font-family="&quot;Liberation Sans&quot;, Arial, Helvetica, sans-serif" font-weight="bold" font-size="200" stroke="#000" stroke-width="0.8" vector-effect="non-scaling-stroke">50MM</text>
<text transform="matrix(0.15159 0 0 0.14085 949.34 571.12)" font-family="&quot;Liberation Sans&quot;, Arial, Helvetica, sans-serif" font-weight="bold" font-size="200" stroke="#000" stroke-width="0.8" vector-effect="non-scaling-stroke">25MM</text>
<text transform="matrix(0.13895 0 0 0.14085 984.29 761.12)" font-family="&quot;Liberation Sans&quot;, Arial, Helvetica, sans-serif" font-weight="bold" font-size="200" stroke="#000" stroke-width="0.8" vector-effect="non-scaling-stroke">0</text>
<text transform="matrix(0.15346 0 0 0.14155 952.33 950.22)" font-family="&quot;Liberation Sans&quot;, Arial, Helvetica, sans-serif" font-weight="bold" font-size="200" stroke="#000" stroke-width="0.8" vector-effect="non-scaling-stroke">25MM</text>
<text transform="matrix(0.15205 0 0 0.14085 954.29 1126.12)" font-family="&quot;Liberation Sans&quot;, Arial, Helvetica, sans-serif" font-weight="bold" font-size="200" stroke="#000" stroke-width="0.8" vector-effect="non-scaling-stroke">50MM</text>
<text transform="matrix(0.14454 0 0 0.13592 77.34 1343.93)" font-family="&quot;Liberation Sans&quot;, Arial, Helvetica, sans-serif" font-weight="bold" font-size="200" stroke="#000" stroke-width="0.8" vector-effect="non-scaling-stroke">+0.4°</text>
<text transform="matrix(0.14672 0 0 0.13592 270.23 1343.93)" font-family="&quot;Liberation Sans&quot;, Arial, Helvetica, sans-serif" font-weight="bold" font-size="200" stroke="#000" stroke-width="0.8" vector-effect="non-scaling-stroke">+0.2°</text>
<text transform="matrix(0.15474 0 0 0.13451 488.66 1344.53)" font-family="&quot;Liberation Sans&quot;, Arial, Helvetica, sans-serif" font-weight="bold" font-size="200" stroke="#000" stroke-width="0.8" vector-effect="non-scaling-stroke">0</text>
<text transform="matrix(0.14632 0 0 0.13944 660.33 1344.92)" font-family="&quot;Liberation Sans&quot;, Arial, Helvetica, sans-serif" font-weight="bold" font-size="200" stroke="#000" stroke-width="0.8" vector-effect="non-scaling-stroke">-0.2°</text>
<text transform="matrix(0.14583 0 0 0.14296 857.13 1344.41)" font-family="&quot;Liberation Sans&quot;, Arial, Helvetica, sans-serif" font-weight="bold" font-size="200" stroke="#000" stroke-width="0.8" vector-effect="non-scaling-stroke">-0.4°</text>
<text transform="matrix(0.14345 0 0 0.13873 1068.95 1343.82)" font-family="&quot;Liberation Sans&quot;, Arial, Helvetica, sans-serif" font-weight="bold" font-size="200" stroke="#000" stroke-width="0.8" vector-effect="non-scaling-stroke">+0.4°</text>
<text transform="matrix(0.14367 0 0 0.13873 1262.45 1343.12)" font-family="&quot;Liberation Sans&quot;, Arial, Helvetica, sans-serif" font-weight="bold" font-size="200" stroke="#000" stroke-width="0.8" vector-effect="non-scaling-stroke">+0.2°</text>
<text transform="matrix(0.15053 0 0 0.13873 1487.20 1343.12)" font-family="&quot;Liberation Sans&quot;, Arial, Helvetica, sans-serif" font-weight="bold" font-size="200" stroke="#000" stroke-width="0.8" vector-effect="non-scaling-stroke">0</text>
<text transform="matrix(0.14412 0 0 0.13873 1658.55 1343.12)" font-family="&quot;Liberation Sans&quot;, Arial, Helvetica, sans-serif" font-weight="bold" font-size="200" stroke="#000" stroke-width="0.8" vector-effect="non-scaling-stroke">-0.2°</text>
<text transform="matrix(0.14583 0 0 0.14225 1856.53 1342.52)" font-family="&quot;Liberation Sans&quot;, Arial, Helvetica, sans-serif" font-weight="bold" font-size="200" stroke="#000" stroke-width="0.8" vector-effect="non-scaling-stroke">-0.4°</text>
<text transform="matrix(0.15250 0 0 0.14437 159.89 1377.21)" font-family="&quot;Liberation Sans&quot;, Arial, Helvetica, sans-serif" font-weight="bold" font-size="200" stroke="#000" stroke-width="0.8" vector-effect="non-scaling-stroke">TOE-IN</text>
<text transform="matrix(0.14821 0 0 0.14718 721.10 1377.91)" font-family="&quot;Liberation Sans&quot;, Arial, Helvetica, sans-serif" font-weight="bold" font-size="200" stroke="#000" stroke-width="0.8" vector-effect="non-scaling-stroke">TOE-OUT</text>
<text transform="matrix(0.14795 0 0 0.14437 1154.40 1376.41)" font-family="&quot;Liberation Sans&quot;, Arial, Helvetica, sans-serif" font-weight="bold" font-size="200" stroke="#000" stroke-width="0.8" vector-effect="non-scaling-stroke">TOE-IN</text>
<text transform="matrix(0.14899 0 0 0.14718 1718.40 1376.01)" font-family="&quot;Liberation Sans&quot;, Arial, Helvetica, sans-serif" font-weight="bold" font-size="200" stroke="#000" stroke-width="0.8" vector-effect="non-scaling-stroke">TOE-OUT</text>
<text transform="matrix(0.14491 0 0 0.14648 383.12 1201.91)" font-family="&quot;Liberation Sans&quot;, Arial, Helvetica, sans-serif" font-weight="bold" font-size="200" stroke="#000" stroke-width="0.8" vector-effect="non-scaling-stroke">DESIGN ARC</text>
<text transform="matrix(0.14662 0 0 0.14366 1633.19 1200.51)" font-family="&quot;Liberation Sans&quot;, Arial, Helvetica, sans-serif" font-weight="bold" font-size="200" stroke="#000" stroke-width="0.8" vector-effect="non-scaling-stroke">DESIGN ARC</text>
<text transform="matrix(0.11538 0 0 0.17053 493.87 1378.73)" font-family="&quot;Liberation Sans&quot;, Arial, Helvetica, sans-serif" font-weight="bold" font-size="200" stroke="#000" stroke-width="0.8" vector-effect="non-scaling-stroke">|</text>
<text transform="matrix(0.11923 0 0 0.17895 1493.71 1378.35)" font-family="&quot;Liberation Sans&quot;, Arial, Helvetica, sans-serif" font-weight="bold" font-size="200" stroke="#000" stroke-width="0.8" vector-effect="non-scaling-stroke">|</text>
<text transform="matrix(0 -0.14714 0.14437 0 999.91 297.84)" font-family="&quot;Liberation Sans&quot;, Arial, Helvetica, sans-serif" font-weight="bold" font-size="200" stroke="#000" stroke-width="0.8" vector-effect="non-scaling-stroke">JOUNCE</text>
<text transform="matrix(0 -0.14535 0.14085 0 1006.22 1293.39)" font-family="&quot;Liberation Sans&quot;, Arial, Helvetica, sans-serif" font-weight="bold" font-size="200" stroke="#000" stroke-width="0.8" vector-effect="non-scaling-stroke">REBOUND</text>
<text transform="matrix(0.12544 0 0 0.12887 43.90 1416.59)" font-family="&quot;Liberation Sans&quot;, Arial, Helvetica, sans-serif" font-weight="normal" font-size="200" stroke="#000" stroke-width="0.3" vector-effect="non-scaling-stroke">G00055989</text>
</g>
</svg></body></html>
